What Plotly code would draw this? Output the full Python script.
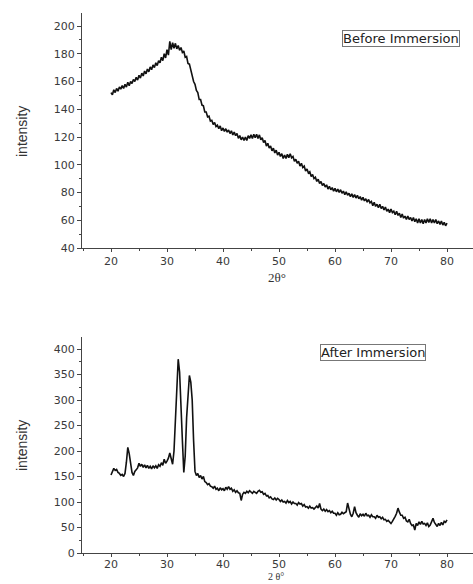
import numpy as np
import plotly.graph_objects as go

# 2-theta positions (degrees), 0.25 deg steps, shared by both scans
two_theta = [20 + 0.25 * i for i in range(241)]

# Before immersion intensities
before_vals = [
    152, 150.5, 154, 152, 155, 153, 156, 154.5, 157, 155, 158, 156,
    159.5, 157, 160, 158.5, 161.5, 160, 163, 161, 164.5, 162.5, 166, 164,
    167.5, 165.5, 169, 167, 170.5, 168.5, 172, 170, 173.5, 171.5, 175, 173.5,
    177.5, 175, 180, 177, 183, 179, 189, 183, 188, 184, 187.5, 183.5,
    186, 182.5, 184.5, 181, 182, 177.5, 178, 173, 172.5, 168, 165.5, 160,
    158, 153.5, 152, 147, 147, 143, 142.5, 138, 138, 134.5, 135, 131.5,
    132, 129, 130.5, 127.5, 128.5, 126, 128, 124.5, 126.5, 124, 126, 123.5,
    125, 122.5, 124.5, 121.5, 123.5, 121, 122.5, 119, 121, 118, 120, 117.5,
    120, 117.5, 121, 119, 121.5, 119, 122, 119.5, 122, 119, 121.5, 118,
    119.5, 116, 117.5, 113.5, 115.5, 112, 113.5, 110, 112, 108.5, 110.5, 107,
    109, 106, 108, 104.5, 107, 104.5, 107.5, 105, 108, 105, 106, 102.5,
    104, 101, 102.5, 99, 101, 98, 99, 95.5, 97, 94, 95, 91.5,
    93, 90, 91, 88, 89.5, 86.5, 88, 85, 86.5, 84, 85.5, 82.5,
    84.5, 82, 83.5, 81, 83, 80.5, 82.5, 80, 82, 79.5, 81, 78.5,
    80.5, 78, 79.5, 77, 79, 76.5, 78.5, 76, 78, 75.5, 77, 74.5,
    76.5, 74, 75.5, 73, 75, 72.5, 73.5, 70.5, 73, 70, 71.5, 69,
    71.5, 68.5, 70, 67.5, 69.5, 66.5, 68, 65.5, 68, 65.5, 66.5, 64,
    66.5, 63.5, 65, 62, 64.5, 61.5, 63, 60.5, 63, 60.5, 62, 59.5,
    62, 59, 61, 58, 61, 58, 60.5, 57.5, 60.5, 58, 61, 58.5,
    61, 58, 60.5, 58, 60.5, 57.5, 59.5, 57, 59.5, 56.5, 58.5, 56,
    58,
]

# After immersion intensities
after_vals = [
    153, 158, 166, 162, 164, 158, 156, 152, 154, 150, 156, 178,
    207, 195, 172, 158, 152, 160, 163, 167, 176, 170, 174, 168,
    173, 167, 172, 166, 170, 165, 171, 167, 171, 166, 173, 170,
    177, 172, 184, 176, 180, 186, 196, 184, 174, 200, 255, 330,
    380, 355, 300, 220, 158, 190, 265, 320, 348, 335, 300, 220,
    160, 152, 156, 148, 152, 145, 150, 140, 138, 134, 136, 131,
    130, 127, 131, 125, 127, 122, 128, 124, 126, 122, 129, 125,
    130, 125, 127, 121, 124, 119, 122, 118, 117, 103, 115, 119,
    117, 121, 118, 122, 120, 117, 121, 118, 117, 121, 123, 119,
    120, 115, 117, 112, 113, 108, 110, 106, 105, 108, 104, 107,
    105, 101, 104, 100, 101, 98, 103, 99, 101, 96, 100, 97,
    97, 94, 99, 96, 97, 92, 95, 90, 91, 88, 92, 88,
    89, 86, 90, 92, 88, 97, 86, 83, 86, 82, 85, 81,
    83, 79, 82, 78, 78, 74, 79, 75, 76, 80, 77, 79,
    81, 98, 84, 76, 71, 78, 91, 79, 74, 70, 77, 73,
    76, 72, 78, 73, 74, 70, 75, 71, 71, 68, 74, 70,
    71, 67, 70, 65, 66, 62, 64, 60, 58, 62, 66, 72,
    78, 88, 80, 74, 74, 68, 70, 63, 61, 66, 58, 54,
    55, 45, 58, 54, 61, 56, 62, 57, 58, 54, 59, 52,
    55, 60, 68, 60, 55, 52, 58, 54, 60, 55, 62, 60,
    65,
]

x_ticks = [20, 30, 40, 50, 60, 70, 80]
top_y_ticks = [40, 60, 80, 100, 120, 140, 160, 180, 200]
bot_y_ticks = [0, 50, 100, 150, 200, 250, 300, 350, 400]

W, H = 473, 584
tick_font = dict(family="DejaVu Sans", size=11, color="#3a3a3a")

fig = go.Figure()
fig.add_trace(go.Scatter(x=two_theta, y=before_vals, mode="lines",
                         line=dict(color="#111111", width=1.6),
                         xaxis="x", yaxis="y", showlegend=False))
fig.add_trace(go.Scatter(x=two_theta, y=after_vals, mode="lines",
                         line=dict(color="#111111", width=1.6),
                         xaxis="x2", yaxis="y2", showlegend=False))

xr = [20 - 29 / 5.6, 80 + 26 / 5.6]
common_x = dict(range=xr, tickvals=x_ticks, showline=True, linecolor="#444",
                linewidth=1, ticks="outside", ticklen=3, tickcolor="#444",
                tickfont=tick_font, showgrid=False, zeroline=False,
                automargin=False,
                minor=dict(dtick=5, tick0=0, ticks="outside", ticklen=2,
                           tickcolor="#444", showgrid=False))
common_y = dict(showline=True, linecolor="#444", linewidth=1, ticks="outside",
                ticklen=4, tickcolor="#444", tickfont=tick_font,
                showgrid=False, zeroline=False, automargin=False)

fig.update_layout(
    width=W, height=H,
    margin=dict(l=0, r=0, t=0, b=0),
    paper_bgcolor="white", plot_bgcolor="white",
    xaxis=dict(domain=[82 / W, 1], anchor="y", **common_x),
    yaxis=dict(domain=[(H - 248) / H, (H - 13) / H], anchor="x",
               range=[40, 40 + 235 * 20 / 27.75], tickvals=top_y_ticks,
               minor=dict(dtick=10, tick0=0, ticks="outside", ticklen=2,
                          tickcolor="#444", showgrid=False),
               **common_y),
    xaxis2=dict(domain=[82 / W, 1], anchor="y2", ticklabelstandoff=-2,
                **common_x),
    yaxis2=dict(domain=[(H - 553) / H, (H - 337) / H], anchor="x2",
                range=[0, 216 * 50 / 25.5], tickvals=bot_y_ticks,
                minor=dict(dtick=25, tick0=0, ticks="outside", ticklen=2,
                           tickcolor="#444", showgrid=False),
                **common_y),
)

label_font = dict(family="DejaVu Sans", size=13, color="#222")
title_font = dict(family="Liberation Sans Narrow, Arial Narrow, sans-serif",
                  size=14, color="#333")
x_title_font = dict(family="Liberation Serif, Times New Roman, serif",
                    size=13, color="#333")

annotations = [
    dict(text="Before Immersion", x=401 / W, y=(H - 39) / H, xref="paper",
         yref="paper", showarrow=False, font=label_font, bordercolor="#777",
         borderwidth=1, borderpad=0, xanchor="center", yanchor="middle"),
    dict(text="After Immersion", x=373 / W, y=(H - 353) / H, xref="paper",
         yref="paper", showarrow=False, font=label_font, bordercolor="#777",
         borderwidth=1, borderpad=0, xanchor="center", yanchor="middle"),
    dict(text="intensity", x=22 / W, y=(H - 132) / H, xref="paper",
         yref="paper", showarrow=False, textangle=-90, font=title_font,
         xanchor="center", yanchor="middle"),
    dict(text="intensity", x=22 / W, y=(H - 446) / H, xref="paper",
         yref="paper", showarrow=False, textangle=-90, font=title_font,
         xanchor="center", yanchor="middle"),
    dict(text="2θ°", x=277 / W, y=(H - 277) / H, xref="paper", yref="paper",
         showarrow=False, font=x_title_font, xanchor="center",
         yanchor="middle"),
    dict(text="2 θ°", x=276 / W, y=0, xref="paper", yref="paper",
         showarrow=False, font=dict(x_title_font, size=10),
         xanchor="center", yanchor="bottom"),
]
fig.update_layout(annotations=annotations)

fig.write_html("out.html", config={"displayModeBar": False},
               post_script="document.body.style.margin='0px';"
                           "document.body.style.overflow='hidden';")
